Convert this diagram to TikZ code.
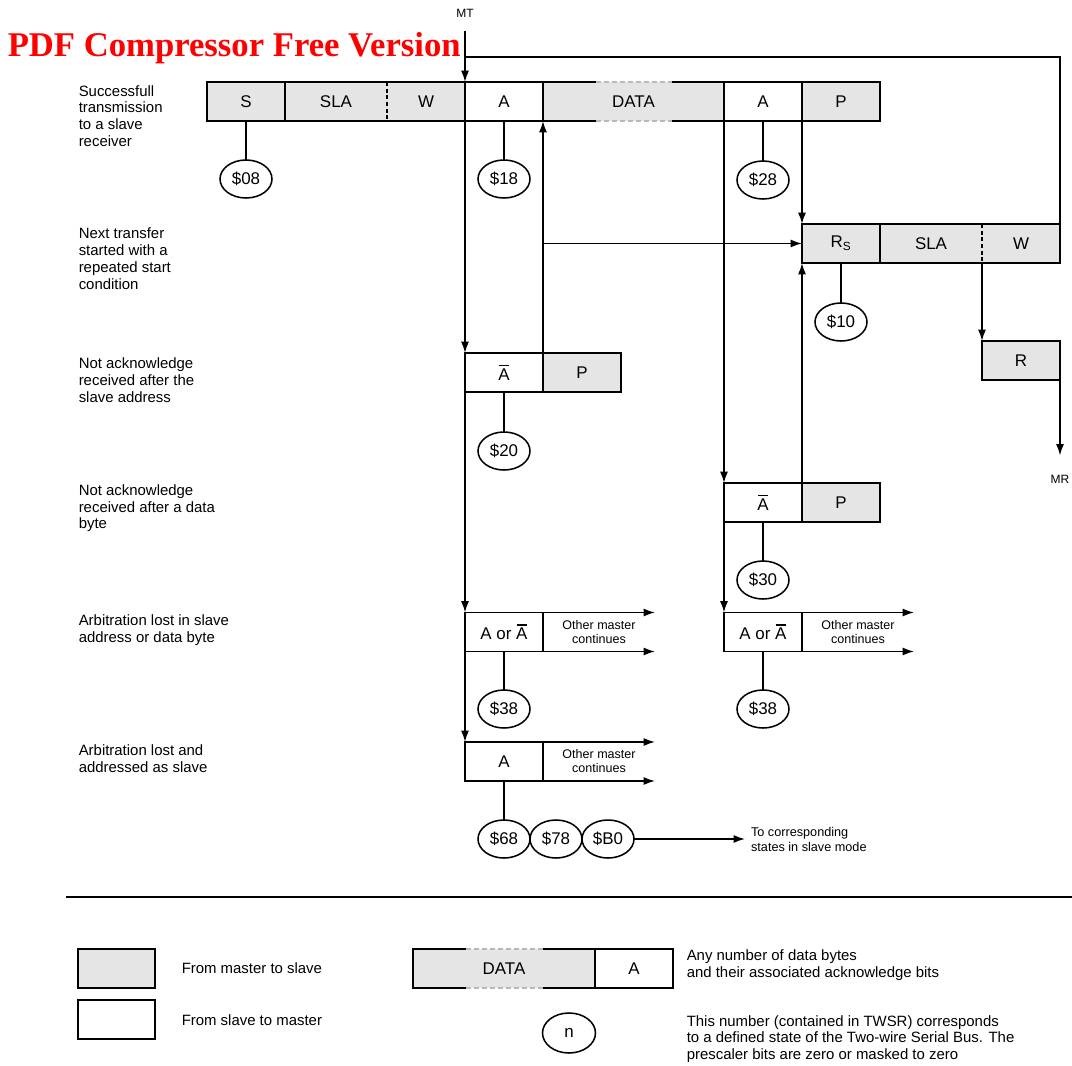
\documentclass[tikz,border=0pt]{standalone}
\usepackage{fontspec}
\setmainfont{Liberation Sans}
\newfontfamily\markfont{Liberation Serif}
\usetikzlibrary{positioning,arrows.meta,shapes.geometric}
\newcommand{\nack}{\makebox[0pt][l]{\hspace{0.03em}\rule[0.8em]{0.62em}{0.09em}}A}
\tikzset{
  flowarrow/.style={-{Latex[length=8.5pt,width=6pt]}},
  mcell/.style={draw, fill=gray!20, minimum width=58.5pt, minimum height=29.25pt, inner sep=0pt, outer sep=0pt, font=\fontsize{12.7}{14}\selectfont},
  scell/.style={mcell, fill=white},
  mfill/.style={mcell, draw=none},
  statenode/.style={ellipse, draw, minimum width=39pt, minimum height=28.5pt, inner sep=0pt, outer sep=0pt, font=\fontsize{12.7}{14}\selectfont},
  rowlabel/.style={anchor=west, align=left, inner sep=0pt, font=\fontsize{11.2}{12.6}\selectfont},
  othertext/.style={minimum width=84pt, minimum height=29.25pt, inner sep=0pt, outer sep=0pt, align=center, font=\fontsize{9.4}{10.5}\selectfont},
  tag/.style={inner sep=2pt, font=\fontsize{9}{10}\selectfont},
  gapdash/.style={draw=gray!55, dash pattern=on 3.5pt off 2.5pt}
}
\begin{document}
\begin{tikzpicture}[x=0.75pt, y=-0.75pt, line width=1.15pt, >=Latex]
\useasboundingbox (0,0) rectangle (1072,1065);

% watermark
\node[anchor=base west, inner sep=0pt, text=red, font=\markfont\bfseries\fontsize{26}{28}\selectfont] (mark) at (7,56) {PDF Compressor Free Version};

% successfull transmission
\node[rowlabel] (lab1) at (78,116) {Successfull\\transmission\\to a slave\\receiver};
\node[mcell] (s) at (246,101.5) {S};
\node[mfill, minimum width=76.5pt, right=0pt of s] (sla) {SLA};
\node[mfill, right=0pt of sla] (w) {W};
\draw (sla.north west) rectangle (w.south east);
\draw[dash pattern=on 3pt off 2pt] (sla.north east) -- (sla.south east);
\node[scell, right=0pt of w] (a1) {A};
\node[mfill, minimum width=135.75pt, right=0pt of a1] (data) {DATA};
\node[scell, right=0pt of data] (a2) {A};
\node[mcell, right=0pt of a2] (p1) {P};

% repeated start
\node[rowlabel] (lab2) at (78,258.7) {Next transfer\\started with a\\repeated start\\condition};
\node[mcell] (rs) at (841,243.5) {R\textsubscript{S}};
\node[mfill, minimum width=76.5pt, right=0pt of rs] (sla2) {SLA};
\node[mfill, right=0pt of sla2] (w2) {W};
\draw (sla2.north west) rectangle (w2.south east);
\draw[dash pattern=on 3pt off 2pt] (sla2.north east) -- (sla2.south east);
\node[mcell] (r) at (1021,360.5) {R};
\node[tag] (mr) at (1060,479) {MR};
\node[tag] (mt) at (465,13) {MT};

% not acknowledge
\node[rowlabel] (lab3) at (78,380) {Not acknowledge\\received after the\\slave address};
\node[scell] (nak1) at (504,372.5) {\nack};
\node[mcell, right=0pt of nak1] (p2) {P};
\node[rowlabel] (lab4) at (78,508.3) {Not acknowledge\\received after a data\\byte};
\node[scell] (nak2) at (763,502.5) {\nack};
\node[mcell, right=0pt of nak2] (p3) {P};

% arbitration lost
\node[rowlabel] (lab5) at (78,630) {Arbitration lost in slave\\address or data byte};
\node[scell] (arb1) at (504,632) {A or \nack};
\node[othertext, right=0pt of arb1] (om1) {Other master\\continues};
\node[scell] (arb2) at (763,632) {A or \nack};
\node[othertext, right=0pt of arb2] (om2) {Other master\\continues};
\node[rowlabel] (lab6) at (78,758.3) {Arbitration lost and\\addressed as slave};
\node[scell] (arb3) at (504,761.5) {A};
\node[othertext, right=0pt of arb3] (om3) {Other master\\continues};

% status codes
\node[statenode] (st08) at (246,179) {\$08};
\node[statenode] (st18) at (504,179) {\$18};
\node[statenode] (st28) at (763,180) {\$28};
\node[statenode] (st10) at (841,322) {\$10};
\node[statenode] (st20) at (504,451) {\$20};
\node[statenode] (st30) at (763,580) {\$30};
\node[statenode] (st38a) at (504,709) {\$38};
\node[statenode] (st38b) at (763,709) {\$38};
\node[statenode] (st68) at (504,839) {\$68};
\node[statenode, right=0pt of st68] (st78) {\$78};
\node[statenode, right=0pt of st78] (stb0) {\$B0};
\node[anchor=west, align=left, inner xsep=4pt, inner ysep=0pt, font=\fontsize{9.5}{11.25}\selectfont] (slavemode) at (745,839) {To corresponding\\states in slave mode};

% legend
\draw (66,897) -- (1072,897);
\node[mcell, minimum width=57.75pt] (keym) at (116.5,968.5) {};
\node[rowlabel] (keymtext) at (181,968.5) {From master to slave};
\node[scell, minimum width=57.75pt] (keys) at (116.5,1019.5) {};
\node[rowlabel] (keystext) at (181,1020.5) {From slave to master};
\node[mfill, minimum width=136.5pt] (keydata) at (504,968.5) {DATA};
\node[scell, right=0pt of keydata] (keya) {A};
\node[rowlabel] (keydatatext) at (686,965.5) {Any number of data bytes\\and their associated acknowledge bits};
\node[statenode, minimum width=39.75pt, minimum height=30pt] (keyn) at (569,1033) {n};
\node[rowlabel] (keyntext) at (686,1039) {This number (contained in TWSR) corresponds\\to a defined state of the Two-wire Serial Bus. The\\prescaler bits are zero or masked to zero};

% data fields with open edges
\foreach \d in {data,keydata} {
  \draw ([xshift=40pt]\d.north west) -- (\d.north west) -- (\d.south west) -- ([xshift=40pt]\d.south west);
  \draw ([xshift=-39pt]\d.north east) -- (\d.north east) -- (\d.south east) -- ([xshift=-39pt]\d.south east);
  \draw[gapdash] ([xshift=40pt]\d.north west) -- ([xshift=-39pt]\d.north east);
  \draw[gapdash] ([xshift=40pt]\d.south west) -- ([xshift=-39pt]\d.south east);
}

% flow
\coordinate (mtjoin) at (465,57);
\draw[flowarrow, shorten <=7.5pt] (mt.south) -- (a1.north west);
\draw (w2.north east) |- (mtjoin);
\draw[flowarrow] (a1.south west) -- (nak1.north west);
\draw[flowarrow] (nak1.south west) -- (arb1.north west);
\draw[flowarrow] (arb1.south west) -- (arb3.north west);
\draw[flowarrow] (nak1.north east) -- (data.south west);
\draw[flowarrow] (nak1.north east |- rs.west) -- (rs.west);
\draw[flowarrow] (data.south east) -- (nak2.north west);
\draw[flowarrow] (nak2.south west) -- (arb2.north west);
\draw[flowarrow] (a2.south east) -- (rs.north west);
\draw[flowarrow] (nak2.north east) -- (rs.south west);
\draw[flowarrow] (sla2.south east) -- (r.north west);
\draw[flowarrow, shorten >=12pt] (r.south east) -- (mr.north);
\foreach \c/\o in {arb1/om1, arb2/om2, arb3/om3} {
  \draw[flowarrow] (\c.north east) -- (\o.north east);
  \draw[flowarrow] (\c.south east) -- (\o.south east);
}
\draw[flowarrow] (stb0.east) -- (slavemode.west);

% status lines
\draw (s.south) -- (st08.north);
\draw (a1.south) -- (st18.north);
\draw (a2.south) -- (st28.north);
\draw (rs.south) -- (st10.north);
\draw (nak1.south) -- (st20.north);
\draw (nak2.south) -- (st30.north);
\draw (arb1.south) -- (st38a.north);
\draw (arb2.south) -- (st38b.north);
\draw (arb3.south) -- (st68.north);
\end{tikzpicture}
\end{document}
